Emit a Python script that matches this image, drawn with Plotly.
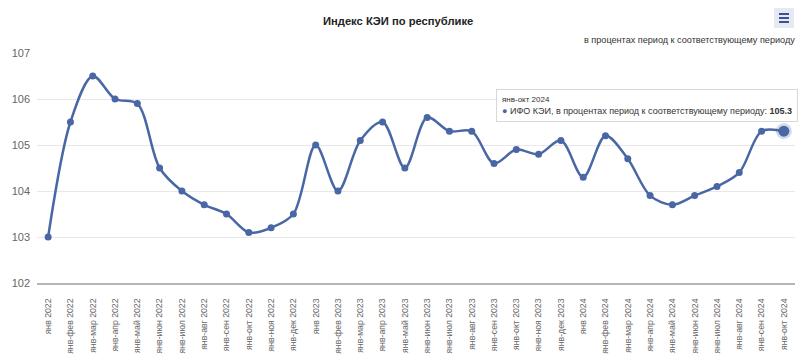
import plotly.graph_objects as go

categories = [
    "янв 2022", "янв-фев 2022", "янв-мар 2022", "янв-апр 2022", "янв-май 2022", "янв-июн 2022",
    "янв-июл 2022", "янв-авг 2022", "янв-сен 2022", "янв-окт 2022", "янв-ноя 2022", "янв-дек 2022",
    "янв 2023", "янв-фев 2023", "янв-мар 2023", "янв-апр 2023", "янв-май 2023", "янв-июн 2023",
    "янв-июл 2023", "янв-авг 2023", "янв-сен 2023", "янв-окт 2023", "янв-ноя 2023", "янв-дек 2023",
    "янв 2024", "янв-фев 2024", "янв-мар 2024", "янв-апр 2024", "янв-май 2024", "янв-июн 2024",
    "янв-июл 2024", "янв-авг 2024", "янв-сен 2024", "янв-окт 2024",
]
values = [
    103.0, 105.5, 106.5, 106.0, 105.9, 104.5, 104.0, 103.7, 103.5, 103.1, 103.2, 103.5,
    105.0, 104.0, 105.1, 105.5, 104.5, 105.6, 105.3, 105.3, 104.6, 104.9, 104.8, 105.1,
    104.3, 105.2, 104.7, 103.9, 103.7, 103.9, 104.1, 104.4, 105.3, 105.3,
]
y_ticks = [102, 103, 104, 105, 106, 107]
series_name = "ИФО КЭИ, в процентах период к соответствующему периоду"
title_text = "Индекс КЭИ по республике"
subtitle_text = "в процентах период к соответствующему периоду"

line_color = "#4a67a5"
sans = "Liberation Sans, Arial, sans-serif"

fig = go.Figure()
fig.add_trace(go.Scatter(
    x=categories, y=values, mode="lines+markers",
    line=dict(color=line_color, width=2.5, shape="spline", smoothing=0.9),
    marker=dict(color=line_color, size=7),
    name=series_name, hoverinfo="skip",
))
# highlighted last point
fig.add_trace(go.Scatter(
    x=[categories[-1]], y=[values[-1]], mode="markers",
    marker=dict(color=line_color, size=11, line=dict(color="rgba(74,103,165,0.25)", width=5)),
    hoverinfo="skip",
))

fig.update_layout(
    width=800, height=355,
    margin=dict(l=37, r=5, t=53, b=72),
    paper_bgcolor="white", plot_bgcolor="white",
    showlegend=False,
    font=dict(family=sans, color="#666666", size=9),
    xaxis=dict(
        type="category", categoryorder="array", categoryarray=categories,
        range=[-0.5, len(categories) - 0.5], automargin=False,
        tickangle=-90, tickfont=dict(family=sans, size=8.7, color="#666666"),
        showgrid=False, showline=True, linecolor="#b5b5b5", linewidth=2,
        ticks="outside", ticklen=10, tickcolor="rgba(0,0,0,0)", zeroline=False,
    ),
    yaxis=dict(
        range=[102, 107], tickvals=y_ticks, ticktext=[str(t) for t in y_ticks],
        automargin=False,
        showgrid=True, gridcolor="#e8e8e8", gridwidth=1, zeroline=False,
        tickfont=dict(family=sans, size=11, color="#666666"), ticks="", ticklabelstandoff=6,
    ),
    annotations=[
        dict(text="<b>" + title_text + "</b>", xref="paper", yref="paper",
             x=(398 - 37) / 758, y=(283 - 21) / 230, xanchor="center", yanchor="middle",
             showarrow=False, font=dict(family=sans, size=11.2, color="#222222")),
        dict(text=subtitle_text, xref="paper", yref="paper",
             x=(797 - 37) / 758, y=(283 - 40) / 230, xanchor="right", yanchor="middle",
             showarrow=False, font=dict(family=sans, size=9.1, color="#333333")),
        dict(text="<span style='font-size:8px'>" + categories[-1] + "</span><br>"
                  "<span style='color:" + line_color + "'>●</span> " + series_name + ": <b>" + f"{values[-1]:.1f}" + "</b>",
             x=categories[-1], y=values[-1], xanchor="right", yanchor="bottom",
             xshift=14, yshift=9, showarrow=False, align="left",
             bgcolor="rgba(255,255,255,0.96)", bordercolor="#d8d8d8", borderwidth=1, borderpad=5,
             font=dict(family=sans, size=9.0, color="#333333")),
    ],
    shapes=[
        dict(type="rect", xref="paper", yref="paper",
             x0=(774 - 37) / 758, x1=(794 - 37) / 758, y0=(283 - 28) / 230, y1=(283 - 8) / 230,
             fillcolor="#e6e9f2", line=dict(width=0)),
    ] + [
        dict(type="line", xref="paper", yref="paper",
             x0=(779 - 37) / 758, x1=(789 - 37) / 758, y0=(283 - yy) / 230, y1=(283 - yy) / 230,
             line=dict(color="#3f4f96", width=2))
        for yy in (14, 18, 22)
    ],
)

fig.write_html("out.html", config={"displayModeBar": False},
               post_script="document.body.style.margin='0';document.body.style.overflow='hidden';")
